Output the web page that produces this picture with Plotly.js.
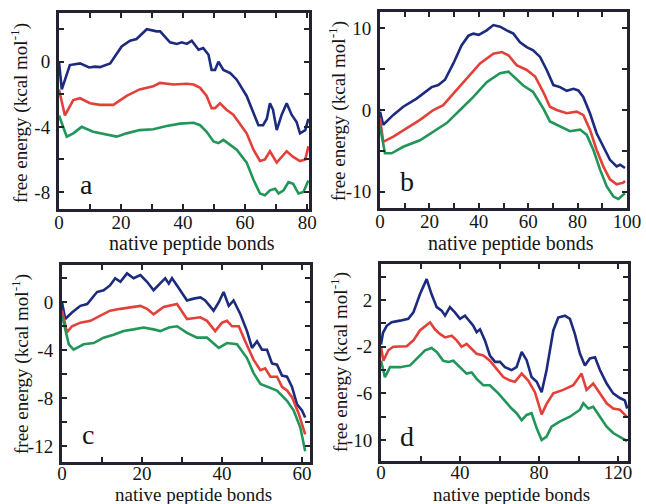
<!DOCTYPE html>
<html>
<head>
<meta charset="utf-8">
<script src="https://cdn.plot.ly/plotly-3.0.1.min.js"></script>
<style>html,body{margin:0;padding:0;background:#fff;}#chart{width:646px;height:504px;}</style>
</head>
<body>
<div id="chart"></div>
<script>
// ---------- data ----------
// panel a
var aBlueX = [0, 0.9, 3.5, 6.8, 9.7, 11.6, 13.2, 16.5, 20.2, 22.9, 25, 28.3, 31.5, 32.6, 35.8, 38, 39.6, 41.2, 42.8, 45, 46.5, 48.2, 49.2, 50.3, 51.4, 53, 55.2, 57.3, 60.5, 62.7, 64.3, 65.8, 67, 68, 69, 70.2, 71.8, 73.4, 75, 76.6, 77.7, 79.4, 80.4];
var aBlueY = [0, -1.7, -0.2, -0.1, -0.35, -0.3, -0.33, -0.1, 0.94, 1.3, 1.4, 2.0, 1.87, 1.87, 1.2, 1.1, 1.2, 1.1, 1.3, 0.74, 0.85, 0.43, -0.5, -0.5, 0, -0.5, -0.7, -1.1, -2.1, -3.15, -3.9, -3.9, -3.5, -2.55, -2.95, -4.2, -3.25, -2.55, -3.25, -3.7, -4.4, -4.2, -3.5];
var aRedX = [0, 1.9, 4.6, 6.8, 10, 13.2, 17.5, 21.8, 26, 30.4, 32.6, 36.9, 41.2, 43.4, 45.5, 47.6, 49.2, 50.3, 51.9, 54, 56.2, 60.5, 62.7, 64.8, 66.4, 68, 70.2, 71.8, 73.4, 75.5, 77.7, 79.4, 80.4];
var aRedY = [-1.7, -3.3, -2.35, -2.24, -2.55, -2.65, -2.65, -2.1, -1.7, -1.5, -1.3, -1.4, -1.35, -1.4, -1.6, -2.1, -2.85, -2.85, -2.55, -2.95, -3.25, -4.4, -5.4, -6.1, -6.0, -5.5, -6.2, -5.85, -5.5, -5.85, -6.1, -6.0, -5.2];
var aGreenX = [0, 2.5, 4.6, 7.3, 11, 15.4, 18.6, 21.8, 26, 30.4, 34.7, 39, 43.4, 45.5, 47.6, 49.8, 51.4, 53, 55.2, 57.3, 60.5, 62.7, 64.8, 66.4, 68, 69.7, 70.8, 72.4, 74, 75.5, 77.2, 78.8, 80.4];
var aGreenY = [-3.3, -4.6, -4.4, -4.0, -4.3, -4.5, -4.6, -4.4, -4.2, -4.15, -3.95, -3.8, -3.75, -3.9, -4.3, -4.9, -5.0, -4.8, -5.1, -5.4, -6.2, -7.25, -8.1, -8.2, -7.9, -7.8, -8.1, -7.9, -7.4, -7.5, -8.1, -8.0, -7.3];

// panel b
var bBlueX = [0, 1.3, 5.4, 9.4, 14.8, 18.9, 20.9, 23.6, 26.3, 29.7, 33, 35.8, 37.8, 40, 43.2, 45.9, 48.6, 51.3, 54, 56.7, 59.4, 62, 64.8, 67.5, 70.2, 72.9, 75.6, 78.3, 80.3, 82.3, 85, 87.7, 90.4, 93.1, 95.8, 97.2, 99.2];
var bBlueY = [-0.2, -1.8, -0.6, 0.4, 1.4, 2.4, 2.8, 3.05, 3.7, 5.7, 7.9, 9.1, 9.35, 9.2, 9.75, 10.4, 10.2, 9.75, 9.35, 8.3, 7.7, 7.3, 6.5, 4.9, 3.05, 2.8, 2.35, 2.6, 2.4, 1.6, -0.4, -2.85, -4.5, -6.1, -6.9, -6.7, -7.1];
var bRedX = [0, 1.3, 5.4, 10.8, 16.2, 21.6, 25.6, 29.7, 35.1, 40.5, 45.9, 49.3, 52, 55.3, 59.4, 62.8, 66.1, 68.8, 71.5, 75.6, 79.6, 82.3, 85, 87.7, 90.4, 93.1, 95.8, 98.5, 99.2];
var bRedY = [-1.0, -3.9, -3.25, -2.2, -1.2, 0, 0.6, 2.0, 3.9, 5.7, 6.9, 7.1, 6.7, 5.5, 4.9, 4.1, 2.2, 0.4, 0, -0.4, -0.2, -0.6, -2.4, -4.9, -6.9, -8.5, -9.1, -8.9, -8.7];
var bGreenX = [0, 2, 4.7, 9.4, 16.2, 21.6, 27, 32.4, 37.8, 43.2, 48.6, 52, 55.3, 58, 62, 66.1, 68.8, 72.9, 76.9, 81, 83.7, 86.4, 89.1, 91.8, 94.5, 96.5, 99.2];
var bGreenY = [-2.0, -5.3, -5.3, -4.5, -3.7, -2.6, -1.6, 0, 1.6, 3.4, 4.5, 4.7, 3.8, 3.0, 2.2, 0.2, -1.4, -2.0, -2.6, -2.4, -3.05, -4.9, -7.3, -9.35, -10.6, -10.9, -10.2];

// panel c
var cBlueX = [0, 0.8, 2.5, 4.6, 6.3, 8.75, 10.4, 12, 13.3, 14.6, 16.25, 17.9, 19.6, 21.25, 22.9, 24.6, 25.8, 26.7, 27.5, 28.75, 31.25, 32.9, 34.6, 35.8, 37.9, 39.2, 40.4, 41.7, 42.9, 44.6, 46.25, 47.5, 48.75, 50, 51.25, 52.5, 53.75, 55, 56.25, 57.5, 58.75, 60, 60.8];
var cBlueY = [0, -1.4, -0.85, -0.3, -0.15, 0.85, 1.0, 1.4, 2.0, 1.7, 2.4, 2.0, 2.26, 1.7, 1.0, 1.55, 2.0, 1.55, 2.0, 1.4, 0.15, 0.3, 0.4, 0.15, -0.7, 0, 0.85, -0.3, 0.15, -1.0, -2.4, -3.8, -3.25, -3.95, -3.95, -5.1, -5.2, -6.1, -6.2, -7.05, -8.5, -9.0, -9.6];
var cRedX = [0, 1.25, 2.5, 4.6, 7.1, 9.6, 12, 14.6, 17.1, 19.6, 21.25, 22.9, 25.4, 27.1, 28.75, 31.25, 34.6, 36.25, 38.3, 40, 41.25, 42.5, 44.2, 45.8, 47.9, 49.6, 50.8, 52.1, 53.75, 55, 56.25, 57.5, 59.2, 60.8];
var cRedY = [-0.7, -2.5, -2.0, -1.7, -1.55, -1.1, -0.7, -0.55, -0.4, -0.3, -0.55, -1.0, -0.4, -0.3, -0.15, -1.4, -1.25, -1.55, -2.4, -1.7, -1.55, -2.0, -2.0, -3.25, -4.8, -5.65, -5.5, -6.2, -6.2, -7.05, -7.35, -7.9, -9.3, -11.0];
var cGreenX = [0, 1.7, 2.9, 5.4, 7.9, 10.4, 12.9, 15.4, 17.9, 20.4, 22.9, 24.6, 26.7, 28.75, 31.25, 33.75, 36.25, 39.2, 41.25, 43.75, 46.25, 47.9, 49.6, 51.7, 53.75, 56.25, 57.9, 59.6, 60.8];
var cGreenY = [-1.1, -3.5, -3.95, -3.5, -3.4, -2.95, -2.7, -2.4, -2.26, -2.1, -2.26, -2.4, -2.1, -2.0, -2.55, -2.95, -2.95, -3.8, -3.4, -3.5, -4.65, -5.9, -6.8, -7.05, -7.35, -8.2, -9.0, -10.45, -12.4];

// panel d
var dBlueX = [0, 1, 2.9, 5.4, 9.6, 13.8, 16.4, 19.7, 23.1, 25.6, 28.2, 30.7, 32.4, 34.9, 37.4, 40, 42.5, 45, 46.7, 48.4, 50.1, 52.6, 55.1, 57.7, 60.2, 62.7, 66.1, 68.6, 71.2, 73.7, 76.2, 78.8, 81.3, 83.8, 87.2, 89.7, 93.1, 95.6, 98.1, 100.7, 103.2, 105.7, 108.3, 110.8, 114.2, 117.5, 120.9, 123.4, 124.6];
var dBlueY = [-1.8, -0.8, -0.2, 0.1, 0.24, 0.4, 0.95, 2.5, 3.8, 2.5, 1.4, 1.1, 0.67, 1.4, 0.95, 0.4, 0.67, 0.1, -0.2, -0.75, -0.5, -1.45, -2.75, -3.3, -3.3, -3.75, -4.0, -3.75, -2.45, -3.15, -4.6, -5.0, -5.9, -4.0, -0.6, 0.5, 0.67, 0.4, -0.9, -2.6, -3.6, -3.0, -2.9, -4.0, -5.15, -6.0, -6.4, -6.6, -7.3];
var dRedX = [0, 1.2, 3.7, 6.2, 13, 16.4, 19.7, 24.8, 27.3, 29.8, 32.4, 35.8, 38.3, 40.8, 43.3, 45.9, 48.4, 51.8, 55.1, 58.5, 61.9, 65.3, 67.8, 71.2, 74.5, 77.9, 81.3, 83.8, 87.2, 92.2, 97.3, 101.5, 104, 107.4, 110.8, 114.2, 117.5, 120.9, 124.3];
var dRedY = [-2.0, -3.2, -2.3, -2.0, -1.95, -1.45, -0.6, 0.1, -0.5, -0.9, -1.2, -1.05, -1.45, -2.0, -1.75, -2.2, -2.6, -2.75, -3.2, -3.9, -4.6, -4.9, -5.0, -4.3, -4.9, -5.9, -7.8, -6.9, -6.0, -5.7, -5.3, -4.3, -5.7, -5.15, -6.0, -6.85, -7.3, -7.4, -8.0];
var dGreenX = [0, 2, 4.6, 9.6, 14.7, 18, 22.3, 25.6, 28.2, 31.5, 34.1, 36.6, 40, 43.3, 45.9, 48.4, 51.8, 55.1, 59.4, 63.6, 66.1, 68.6, 71.2, 73.7, 76.2, 78.8, 81.3, 83.8, 86.3, 90.6, 95.6, 100.7, 102.4, 104.9, 107.4, 110.8, 114.2, 117.5, 121.8, 124.6];
var dGreenY = [-3.2, -4.6, -3.75, -3.75, -3.6, -3.0, -2.3, -2.1, -2.45, -3.2, -3.3, -3.2, -3.75, -4.3, -4.2, -4.75, -5.3, -5.3, -6.0, -6.85, -7.3, -7.7, -8.3, -7.85, -7.7, -9.0, -10.0, -9.7, -8.85, -8.4, -8.0, -7.4, -6.85, -7.3, -7.15, -8.0, -8.85, -9.4, -9.85, -10.1];

// labelled ticks and unlabelled (minor) ticks
var aXTicks = [0, 20, 40, 60, 80];
var aXText  = ['0', '20', '40', '60', '80'];
var aXMinor = [10, 30, 50, 70];
var aYTicks = [-8, -4, 0];
var aYText  = ['-8', '-4', '0'];
var aYMinor = [-6, -2, 2];
var bXTicks = [0, 20, 40, 60, 80, 100];
var bXText  = ['0', '20', '40', '60', '80', '100'];
var bXMinor = [10, 30, 50, 70, 90];
var bYTicks = [-10, 0, 10];
var bYText  = ['-10', '0', '10'];
var bYMinor = [-5, 5];
var cXTicks = [0, 20, 40, 60];
var cXText  = ['0', '20', '40', '60'];
var cXMinor = [10, 30, 50];
var cYTicks = [-12, -8, -4, 0];
var cYText  = ['-12', '-8', '-4', '0'];
var cYMinor = [-10, -6, -2, 2];
var dXTicks = [0, 40, 80, 120];
var dXText  = ['0', '40', '80', '120'];
var dXMinor = [20, 60, 100];
var dYTicks = [-10, -6, -2, 2];
var dYText  = ['-10', '-6', '-2', '2'];
var dYMinor = [-8, -4, 0, 4];

var panelLetters = ['a', 'b', 'c', 'd'];
var xTitle = 'native peptide bonds';
var yTitle = 'free energy (kcal mol<sup>-1</sup>)';

// ---------- styling ----------
var BLUE = '#1d2b7e', RED = '#e4403a', GREEN = '#229559';
var FRAME = '#23232f';
var FONT = '"Liberation Serif", "Times New Roman", serif';
var TXT = '#151515';

function tr(x, y, color, xa, ya) {
  return {x: x, y: y, type: 'scatter', mode: 'lines', xaxis: xa, yaxis: ya,
          line: {color: color, width: 2.6}, showlegend: false, hoverinfo: 'skip'};
}
var data = [
  tr(aBlueX, aBlueY, BLUE, 'x', 'y'), tr(aRedX, aRedY, RED, 'x', 'y'), tr(aGreenX, aGreenY, GREEN, 'x', 'y'),
  tr(bBlueX, bBlueY, BLUE, 'x2', 'y2'), tr(bRedX, bRedY, RED, 'x2', 'y2'), tr(bGreenX, bGreenY, GREEN, 'x2', 'y2'),
  tr(cBlueX, cBlueY, BLUE, 'x3', 'y3'), tr(cRedX, cRedY, RED, 'x3', 'y3'), tr(cGreenX, cGreenY, GREEN, 'x3', 'y3'),
  tr(dBlueX, dBlueY, BLUE, 'x4', 'y4'), tr(dRedX, dRedY, RED, 'x4', 'y4'), tr(dGreenX, dGreenY, GREEN, 'x4', 'y4')
];

var W = 646, H = 504;
function dx(l, r) { return [l / W, r / W]; }
function dy(t, b) { return [1 - b / H, 1 - t / H]; }

function common(dom, range, tv, tt, minor, anchor, standoff) {
  return {domain: dom, range: range, anchor: anchor, tickmode: 'array', tickvals: tv, ticktext: tt,
          ticks: 'inside', ticklen: 5, tickwidth: 2, tickcolor: FRAME,
          minor: {tickmode: 'array', tickvals: minor, ticks: 'inside', ticklen: 5, tickwidth: 2, tickcolor: FRAME, showgrid: false},
          showline: true, linewidth: 3, linecolor: FRAME, mirror: 'ticks',
          showgrid: false, zeroline: false, fixedrange: true, ticklabelstandoff: standoff,
          tickfont: {family: FONT, size: 19, color: TXT}};
}
function xax(dom, range, tv, tt, minor, anchor, so) { return common(dom, range, tv, tt, minor, anchor, so); }
function yax(dom, range, tv, tt, minor, anchor) { return common(dom, range, tv, tt, minor, anchor, 2); }

function xTitleAnn(xref, yPx, size) {
  return {text: xTitle, xref: xref + ' domain', yref: 'paper', x: 0.53, y: 1 - yPx / H,
          xanchor: 'center', yanchor: 'middle', showarrow: false,
          font: {family: FONT, size: size, color: TXT}};
}
function yTitleAnn(xPx, yPx) {
  return {text: yTitle, xref: 'paper', yref: 'paper', x: xPx / W, y: 1 - yPx / H, textangle: -90,
          xanchor: 'center', yanchor: 'middle', showarrow: false,
          font: {family: FONT, size: 19, color: TXT}};
}
function letterAnn(i, xref, yref, x, y) {
  return {text: panelLetters[i], xref: xref + ' domain', yref: yref + ' domain', x: x, y: y,
          xanchor: 'center', yanchor: 'middle', showarrow: false,
          font: {family: FONT, size: 28, color: TXT}};
}

var layout = {
  width: W, height: H,
  margin: {l: 0, r: 0, t: 0, b: 0},
  paper_bgcolor: '#ffffff', plot_bgcolor: '#ffffff',
  showlegend: false,
  xaxis:  xax(dx(59, 309), [0, 80.6], aXTicks, aXText, aXMinor, 'y', -6),
  yaxis:  yax(dy(13, 209), [-9.05, 3.0], aYTicks, aYText, aYMinor, 'x'),
  xaxis2: xax(dx(380, 627), [0, 100], bXTicks, bXText, bXMinor, 'y2', -6),
  yaxis2: yax(dy(12, 208), [-12, 12], bYTicks, bYText, bYMinor, 'x2'),
  xaxis3: xax(dx(62, 310), [0, 62], cXTicks, cXText, cXMinor, 'y3', -8),
  yaxis3: yax(dy(265, 462), [-13.3, 3.1], cYTicks, cYText, cYMinor, 'x3'),
  xaxis4: xax(dx(381, 628), [0, 125], dXTicks, dXText, dXMinor, 'y4', -8),
  yaxis4: yax(dy(264, 461), [-11.8, 5.1], dYTicks, dYText, dYMinor, 'x4'),
  annotations: [
    xTitleAnn('x', 243, 20), xTitleAnn('x2', 243, 20), xTitleAnn('x3', 494, 19), xTitleAnn('x4', 494, 19),
    yTitleAnn(20, 113), yTitleAnn(337, 111), yTitleAnn(20, 364), yTitleAnn(339, 362),
    letterAnn(0, 'x', 'y', 0.108, 0.125),
    letterAnn(1, 'x2', 'y2', 0.109, 0.135),
    letterAnn(2, 'x3', 'y3', 0.105, 0.14),
    letterAnn(3, 'x4', 'y4', 0.105, 0.125)
  ]
};

Plotly.newPlot('chart', data, layout, {displayModeBar: false, staticPlot: true});
</script>
</body>
</html>
